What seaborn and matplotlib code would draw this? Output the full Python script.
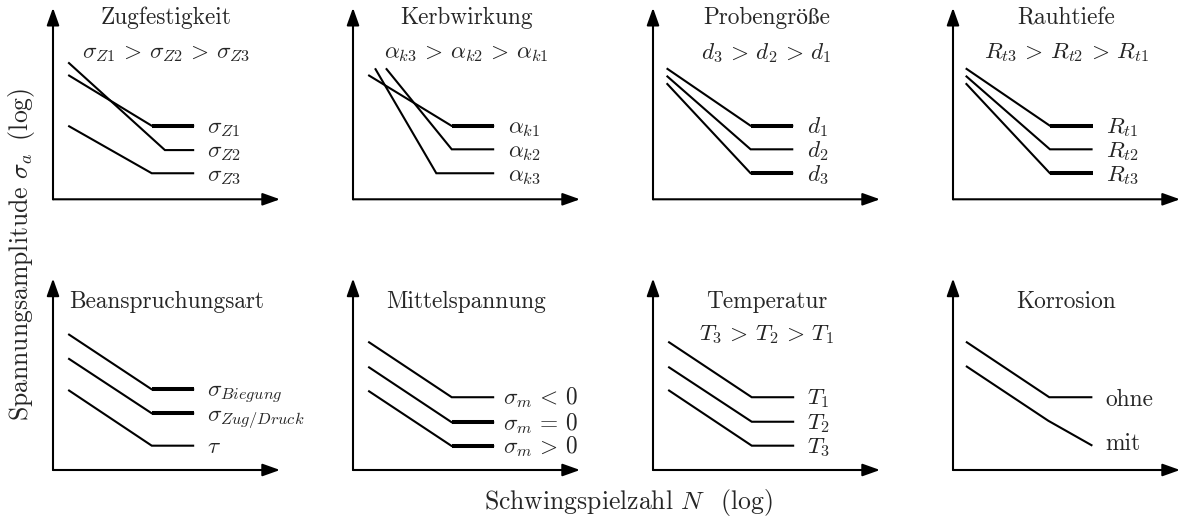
import matplotlib
matplotlib.use("Agg")
import matplotlib.pyplot as plt
import numpy as np
import pandas as pd
import seaborn as sns

sns.set_style("white")
plt.rcParams["font.family"] = ["cmr10", "STIXGeneral", "DejaVu Serif"]
plt.rcParams["mathtext.fontset"] = "cm"
plt.rcParams["axes.formatter.use_mathtext"] = True

# ---------------- data (panel units: axis arrow tips at 10) ----------------
panel_titles = ["Zugfestigkeit", "Kerbwirkung", "Probengröße", "Rauhtiefe",
                "Beanspruchungsart", "Mittelspannung", "Temperatur", "Korrosion"]
panel_subtitles = [r"$\sigma_{Z1}\,>\,\sigma_{Z2}\,>\,\sigma_{Z3}$",
                   r"$\alpha_{k3}\,>\,\alpha_{k2}\,>\,\alpha_{k1}$",
                   r"$d_3\,>\,d_2\,>\,d_1$",
                   r"$R_{t3}\,>\,R_{t2}\,>\,R_{t1}$",
                   None, None,
                   r"$T_3\,>\,T_2\,>\,T_1$",
                   None]
curve_labels = [
    [r"$\sigma_{Z1}$", r"$\sigma_{Z2}$", r"$\sigma_{Z3}$"],
    [r"$\alpha_{k1}$", r"$\alpha_{k2}$", r"$\alpha_{k3}$"],
    [r"$d_1$", r"$d_2$", r"$d_3$"],
    [r"$R_{t1}$", r"$R_{t2}$", r"$R_{t3}$"],
    [r"$\sigma_{Biegung}$", r"$\sigma_{Zug/Druck}$", r"$\tau$"],
    [r"$\sigma_m\,<\,0$", r"$\sigma_m\,=\,0$", r"$\sigma_m\,>\,0$"],
    [r"$T_1$", r"$T_2$", r"$T_3$"],
    ["ohne", "mit"],
]
# log N  (start, knee, end) per curve
curve_N = [
    [[0.67, 4.35, 6.22], [0.67, 4.93, 6.22], [0.67, 4.35, 6.22]],
    [[0.67, 4.35, 6.22], [1.45, 4.35, 6.22], [0.97, 3.67, 6.22]],
    [[0.60, 4.30, 6.18], [0.60, 4.30, 6.18], [0.60, 4.30, 6.18]],
    [[0.56, 4.27, 6.15], [0.56, 4.27, 6.15], [0.56, 4.27, 6.15]],
    [[0.67, 4.35, 6.22], [0.67, 4.35, 6.22], [0.67, 4.35, 6.22]],
    [[0.67, 4.35, 6.22], [0.67, 4.35, 6.22], [0.67, 4.35, 6.22]],
    [[0.67, 4.35, 6.22], [0.67, 4.35, 6.22], [0.67, 4.35, 6.22]],
    [[0.57, 4.24, 6.14], [0.57, 4.20, 6.14]],
]
# log sigma_a (start, knee, end) per curve
curve_S = [
    [[6.49, 3.84, 3.84], [7.15, 2.57, 2.57], [3.84, 1.36, 1.36]],
    [[6.49, 3.83, 3.83], [6.84, 2.61, 2.61], [6.84, 1.36, 1.36]],
    [[6.84, 3.84, 3.84], [6.45, 2.61, 2.61], [6.06, 1.36, 1.36]],
    [[6.84, 3.84, 3.84], [6.45, 2.61, 2.61], [6.06, 1.36, 1.36]],
    [[7.10, 4.21, 4.21], [5.83, 2.96, 2.96], [4.18, 1.27, 1.27]],
    [[6.70, 3.80, 3.80], [5.39, 2.49, 2.49], [4.14, 1.25, 1.25]],
    [[6.70, 3.80, 3.80], [5.39, 2.52, 2.52], [4.18, 1.27, 1.27]],
    [[6.70, 3.80, 3.80], [5.43, 2.57, 1.27]],
]
# ---------------- styling ----------------
bold_tail = [[1, 0, 0], [1, 0, 0], [1, 0, 1], [1, 0, 1],
             [1, 1, 0], [0, 1, 1], [0, 0, 0], [0, 0]]
label_x = [6.77, 6.83, 6.77, 6.74, 6.78, 6.61, 6.78, 6.73]

W, H = 1181, 523
fig = plt.figure(figsize=(W / 100, H / 100), dpi=100)
fig.patch.set_facecolor("white")

row_origin_y = [199.3, 470.0]
axis_h = 191.5
axis_w = 227.0
FS = 16.8
FS_AX = 18.5
LW = 1.5

for i in range(8):
    r, c = divmod(i, 4)
    x0 = 53 + 300 * c
    ax = fig.add_axes([x0 / W, (H - row_origin_y[r]) / H, axis_w / W, axis_h / H])
    ax.set_xlim(0, 10)
    ax.set_ylim(0, 10)
    ax.axis("off")
    arrow = dict(arrowstyle="-|>,head_length=0.7,head_width=0.25", color="black",
                 lw=LW, shrinkA=0, shrinkB=0, mutation_scale=15)
    ax.annotate("", xy=(10, 0), xytext=(0, 0), arrowprops=arrow, annotation_clip=False)
    ax.annotate("", xy=(0, 10), xytext=(0, 0), arrowprops=arrow, annotation_clip=False)

    for j, (xs, ys) in enumerate(zip(curve_N[i], curve_S[i])):
        df = pd.DataFrame({"N": xs, "S": ys})
        sns.lineplot(data=df, x="N", y="S", ax=ax, color="black", lw=LW,
                     sort=False, estimator=None, solid_joinstyle="miter",
                     solid_capstyle="butt")
        if bold_tail[i][j]:
            sns.lineplot(data=df.iloc[1:], x="N", y="S", ax=ax, color="black",
                         lw=2.9, sort=False, estimator=None, solid_capstyle="butt")
        lab = curve_labels[i][j]
        ly = ys[-1] - 0.38
        if i == 7:
            ly = ys[-1] - (0.45 if j == 0 else 0.2)
        ax.text(label_x[i], ly, lab, fontsize=FS, ha="left", va="baseline",
                clip_on=False)

    ax.set_xlabel("")
    ax.set_ylabel("")
    if r == 0:
        ax.text(5.0, 9.47, panel_titles[i], fontsize=FS, ha="center", va="center")
        ax.text(5.0, 7.64, panel_subtitles[i], fontsize=FS, ha="center", va="center")
    else:
        ax.text(5.0, 8.77, panel_titles[i], fontsize=FS, ha="center", va="center")
        if panel_subtitles[i]:
            ax.text(5.0, 7.05, panel_subtitles[i], fontsize=FS, ha="center", va="center")

fig.text(22 / W, 1 - 254 / H, r"Spannungsamplitude $\sigma_a$$\;\;$(log)", rotation=90,
         fontsize=FS_AX, ha="center", va="center")
fig.text(628 / W, 1 - 503 / H, r"Schwingspielzahl $N$$\;\;\;$(log)",
         fontsize=FS_AX, ha="center", va="center")

fig.savefig("out.png", dpi=100, facecolor="white")
